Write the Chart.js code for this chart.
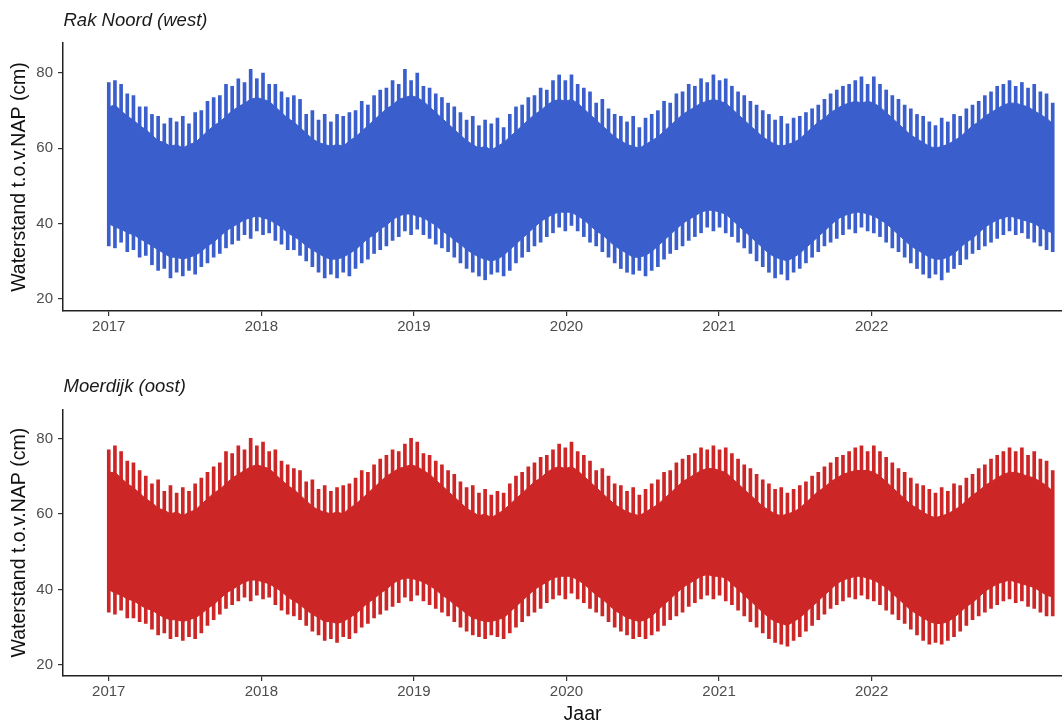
<!DOCTYPE html>
<html>
<head>
<meta charset="utf-8">
<title>Waterstand Rak Noord en Moerdijk</title>
<script src="https://cdn.jsdelivr.net/npm/chart.js@4.4.1/dist/chart.umd.min.js"></script>
<style>
  html, body { margin: 0; padding: 0; background: #fff; width: 1062px; height: 724px; overflow: hidden; }
  canvas { position: absolute; left: 0; }
  #rak { top: 0; }
  #moer { top: 362px; }
</style>
</head>
<body>
<canvas id="rak" width="1102" height="362"></canvas>
<canvas id="moer" width="1102" height="370"></canvas>
<script>
// Spring–neap cycles from 1 Jan 2017 onward; one value per cycle (cm t.o.v. NAP).
const seriesStart = 2017.0;
const springNeapDays = 14.77;

const yearTicks = [2017, 2018, 2019, 2020, 2021, 2022];
const levelTicks = [20, 40, 60, 80];

// Rak Noord (west)
const rakHighPeak = [
  77.5,78,77,74.5,74,71,71,69,68.5,66.5,68,67,68.5,66.5,69.5,70,72.5,73.5,74,77,76.5,78.5,77.5,81,78.5,
  80,77,77,75,73.5,74,73,69,70,67.5,69,67,69,68.5,69.5,70,72.5,71.5,74,75.5,76,78,77,81,78,
  80,76.5,76,74.5,73.5,72,71,69.5,67.5,68.5,66,67.5,66.5,68,65.5,69,71,71.5,73.5,74,76,75.5,78,79.5,78,
  79.5,77,76,75,72,73,70.5,69,68.5,67,68.5,65.5,68,69,70,72.5,72,74.5,75,77,76.5,78.5,77.5,79.5,
  78,78.5,76.5,75,74,72.5,71.5,70,69,67.5,68.5,66.5,68,68.5,69.5,70.5,71.5,73,74.5,75.5,76.5,77,78,79,77,
  79,77,75.5,74,73,71.5,70.5,69,68.5,67,66,68,67,69,68.5,70.5,71.5,72.5,74,75,76.5,77,78,76.5,77.5,
  76,77,75,74.5,72
];
const rakHighBase = [
  71,71.5,70,68.5,67.5,66,65,63.5,62,61.5,60.5,61,60,61,61.5,63,64.5,66,67,68.5,70,71,72,73,73.5,
  73,72.5,71,69.5,68,67,65.5,64,62.5,61.5,61,60.5,61,60.5,62,63,64.5,66,67.5,69,70.5,71.5,73,73.5,74,
  73.5,72.5,71,69.5,68,66.5,65,63.5,62,61,60,60.5,59.5,60.5,61.5,63,64.5,66,67.5,69,70,71.5,72.5,73,72.5,
  73,72,70.5,69,67.5,66,64.5,63,62,61,60.5,60,61,62,63,64.5,66,67.5,69,70,71,72,72.5,73,
  72.5,72,70.5,69,67.5,66,64.5,63,62,61,60.5,61,61.5,62.5,64,65.5,67,68,69.5,70.5,71.5,72,72.5,72,72.5,
  72,71,69.5,68,66.5,65,63.5,62.5,61.5,60.5,60,60.5,61,62,63,64.5,66,67,68.5,69.5,70.5,71.5,72,72,71.5,
  71,70,69,68,66.5
];
const rakLowBase = [
  40,39,38.5,37.5,37,36,35,34,33,32,31,31,30.5,31,31.5,32.5,34,35,36.5,38,39,40,41,41.5,42,
  41.5,41,40,39,37.5,36.5,35.5,34,33,32,31,30.5,30.5,31,32,33,34.5,36,37,38.5,39.5,41,42,42.5,42.5,
  42,41.5,40.5,39.5,38,37,35.5,34.5,33,32,31,30.5,30,30.5,31.5,33,34.5,36,37.5,39,40.5,41.5,42.5,43,43,
  43,42,41,39.5,38,37,35.5,34,33,32,31,31,31.5,32.5,34,35.5,37,38.5,40,41,42,43,43.5,43.5,
  43,42.5,41,39.5,38,36.5,35,33.5,32,31,30.5,30,31,32,33.5,35,36.5,38,39.5,41,42,42.5,43,43,42.5,
  42,41,40,38.5,37,35.5,34,33,32,31,30.5,30.5,31,32,33.5,35,36,37.5,39,40,41,41.5,42,41.5,41,
  40.5,40,39,38,37.5
];
const rakLowPeak = [
  34,33.5,35,32.5,33,31,31.5,29,27.5,28,25.5,27,26,27.5,26.5,28.5,29.5,31,32,33.5,34.5,35.5,37,36,38,
  37,37.5,35.5,34.5,33,33,31.5,30,28.5,27,25.5,26.5,25.5,27,26,28,29.5,30.5,32,33,34,35.5,36.5,38,37,
  38.5,37,36,34.5,33.5,32.5,31,29.5,28,27,26,25,26.5,27,26,27.5,29.5,31,32.5,34,35,36.5,37.5,39,38,
  39.5,38,36.5,35,34,32.5,31,29.5,28,27,26.5,27.5,26,27.5,28.5,30.5,32,33,34,35.5,36.5,37.5,39,38,
  39,37.5,36.5,35,33.5,32,30,28.5,27,25.5,26.5,25,27,28,29.5,31,32.5,34,35,36,37,38.5,37.5,39,38,
  37.5,36.5,35,33.5,32.5,31,29.5,28,26.5,25.5,26.5,25,27,28,29,30.5,32,33,34,35,36,37,38,37,37.5,
  36,35,34,33,32.5
];

// Moerdijk (oost)
const moerHighPeak = [
  77,78,76.5,74,73.5,71.5,70,68,69,66,67.5,65.5,67,66,68,69.5,71,72.5,73.5,76.5,76,78,77,80,78,
  79,76.5,77,74,73,72,71.5,68.5,69,66.5,67.5,66,67,67.5,68,69.5,71.5,71,73,74.5,75.5,77,76.5,78.5,80,
  79,76,75.5,74,73,71.5,70.5,68.5,67,67.5,65.5,66.5,65,66,65.5,68,70,71,72.5,73.5,75,75.5,77,78.5,77.5,
  79,76.5,75.5,74,71.5,72,70,68,67.5,66,67,65,66.5,68,69,71,71.5,73.5,74.5,75.5,76,77.5,77,78,
  77,77.5,76,74.5,73,72,70.5,69,68,66.5,67,65.5,66.5,67.5,68.5,70,71,72.5,73.5,75,75.5,76.5,77.5,78,76.5,
  78,76.5,75,73.5,72,71,69.5,68,67.5,66.5,65.5,67,66,68,67.5,69.5,70.5,72,73,74.5,75.5,76.5,77.5,76.5,77.5,
  75.5,76.5,74.5,74,71.5
];
const moerHighBase = [
  71,71,69.5,68,67,65.5,64,63,61.5,61,60,60.5,59.5,60.5,61,62.5,64,65.5,66.5,68,69.5,70.5,71.5,72.5,73,
  72.5,72,70.5,69,67.5,66.5,65,63.5,62,61,60.5,60,60.5,60,61.5,62.5,64,65.5,67,68.5,70,71,72,72.5,73,
  72.5,71.5,70.5,69,67.5,66,64.5,63,61.5,60.5,59.5,60,59,60,61,62.5,64,65.5,67,68.5,69.5,71,72,72.5,72,
  72.5,71.5,70,68.5,67,65.5,64,62.5,61.5,60.5,60,59.5,60.5,61.5,62.5,64,65.5,67,68.5,69.5,70.5,71.5,72,72,
  71.5,71,69.5,68,66.5,65,63.5,62,61,60,59.5,60,60.5,61.5,63,64.5,66,67,68.5,69.5,70.5,71,71.5,71.5,71.5,
  71,70,68.5,67,65.5,64,62.5,61.5,60.5,59.5,59,59.5,60,61,62,63.5,65,66,67.5,68.5,69.5,70.5,71,71,70.5,
  70,69.5,68.5,67.5,66
];
const moerLowBase = [
  40,39,38.5,37.5,37,36,35,34.5,33.5,32.5,32,32,31.5,32,32.5,33.5,35,36,37.5,39,40,41,42,42.5,42.5,
  42,41.5,40.5,39.5,38,37,36,34.5,33.5,32.5,31.5,31.5,31,31.5,32.5,33.5,35,36.5,37.5,39,40,41.5,42.5,43,43,
  42.5,42,41,40,38.5,37.5,36,35,33.5,32.5,32,31.5,31.5,32,32.5,34,35.5,37,38.5,40,41,42,43,43.5,43.5,
  43.5,42.5,41.5,40,38.5,37.5,36,34.5,33.5,32.5,32,31.5,32,33,34.5,36,37.5,39,40.5,41.5,42.5,43.5,44,43.5,
  43.5,43,41.5,40,38.5,37,35.5,34,32.5,31.5,31,30.5,31.5,32.5,34,35.5,37,38.5,40,41.5,42.5,43,43.5,43.5,43,
  42.5,41.5,40.5,39,37.5,36,34.5,33.5,32.5,31.5,31,31,31.5,32.5,34,35.5,36.5,38,39.5,40.5,41.5,42,42.5,42,41.5,
  41,40.5,39.5,38.5,38
];
const moerLowPeak = [
  34,33.5,34.5,32.5,32.5,31.5,31,29.5,28,28.5,27,27.5,26.5,27.5,27,28.5,30.5,32,33.5,35,36,37,38,37,38.5,
  37.5,38,36,34.5,33.5,33,32,30.5,29,28,26.5,27,26,27.5,27,28.5,30,31,32.5,33.5,34.5,35.5,36.5,38,37,
  38.5,37,36,35,34,33,31.5,30,29,28,27.5,27,28,27.5,27,28.5,30,31.5,33,34,35,36.5,37.5,38.5,37.5,
  39,37.5,36.5,35,34,33,31.5,30,29,28,27,27.5,27,28,29,30.5,32,33,34,35.5,36.5,37.5,38.5,37.5,
  38.5,37,36,34.5,33,31.5,30,28.5,27,26,25.5,25,26.5,27.5,29,30.5,32,33.5,35,36,37,38,37.5,38.5,37.5,
  37,36,34.5,33.5,32,31,29.5,28,26.5,25.5,26,25.5,26.5,27.5,29,30.5,32,33,34,35,36,37,37.5,36.5,37,
  35.5,35,34,33,33
];

const cycleYears = rakHighPeak.map((_, i) => seriesStart + i * springNeapDays / 365.25);

const FONT = '"Liberation Sans", Arial, Helvetica, sans-serif';
Chart.defaults.font.family = FONT;

// Italic panel heading above the plot area
const panelTitle = {
  id: 'panelTitle',
  afterDraw(chart, args, opts) {
    const { ctx, chartArea } = chart;
    ctx.save();
    ctx.font = 'italic 18.5px ' + FONT;
    ctx.fillStyle = '#1a1a1a';
    ctx.textAlign = 'left';
    ctx.textBaseline = 'middle';
    ctx.fillText(opts.text, chartArea.left + 0.5, chartArea.top - 22);
    ctx.restore();
  }
};

function drawPanel(id, heading, color, highPeak, highBase, lowBase, lowPeak, cfg) {
  const canvas = document.getElementById(id);
  const H = canvas.height;
  const axisGrid = { display: true, drawOnChartArea: false, drawTicks: true, tickLength: 5, color: '#333', lineWidth: 1.2, offset: false };
  const axisBorder = { display: true, color: '#222', width: 1.5 };
  const tickFont = { size: 15 };

  return new Chart(canvas, {
    type: 'line',
    data: {
      datasets: [
        {
          data: cycleYears.map((t, i) => ({ x: t, y: highBase[i] })),
          borderColor: color, borderWidth: 1, pointRadius: 0, fill: false, tension: 0
        },
        {
          data: cycleYears.map((t, i) => ({ x: t, y: lowBase[i] })),
          borderColor: color, borderWidth: 1, pointRadius: 0, backgroundColor: color, fill: '-1', tension: 0
        },
        {
          type: 'bar',
          data: cycleYears.map((t, i) => ({ x: t, y: [lowPeak[i], highPeak[i]] })),
          backgroundColor: color, borderWidth: 0, barThickness: 3, grouped: false
        }
      ]
    },
    options: {
      responsive: false,
      animation: false,
      devicePixelRatio: 1,
      events: [],
      layout: { padding: { top: cfg.areaTop, left: 0, right: 0, bottom: 0 } },
      plugins: {
        legend: { display: false },
        tooltip: { enabled: false },
        panelTitle: { text: heading }
      },
      scales: {
        x: {
          type: 'linear',
          min: 2016.70,
          max: 2023.51,
          offset: false,
          afterBuildTicks: s => { s.ticks = yearTicks.map(v => ({ value: v })); },
          afterFit: s => { s.height = H - cfg.areaBottom; },
          ticks: { callback: v => String(v), color: '#4d4d4d', font: tickFont, padding: 2, maxRotation: 0, autoSkip: false },
          grid: axisGrid,
          border: axisBorder,
          title: { display: cfg.xTitle, text: 'Jaar', color: '#111', font: { size: 19.5 }, padding: { top: 0, bottom: 6 } }
        },
        y: {
          type: 'linear',
          min: cfg.yMin,
          max: cfg.yMax,
          afterBuildTicks: s => { s.ticks = levelTicks.map(v => ({ value: v })); },
          afterFit: s => { s.width = 63; },
          ticks: { callback: v => String(v), color: '#4d4d4d', font: tickFont, padding: 5 },
          grid: axisGrid,
          border: axisBorder,
          title: { display: true, text: 'Waterstand t.o.v.NAP (cm)', color: '#111', font: { size: 19.5 }, padding: { top: 8, bottom: 0 } }
        }
      }
    },
    plugins: [panelTitle]
  });
}

drawPanel('rak', 'Rak Noord (west)', '#3A5FCD',
  rakHighPeak, rakHighBase, rakLowBase, rakLowPeak,
  { areaTop: 43, areaBottom: 311, yMin: 16.7, yMax: 88.0, xTitle: false });

drawPanel('moer', 'Moerdijk (oost)', '#CD2626',
  moerHighPeak, moerHighBase, moerLowBase, moerLowPeak,
  { areaTop: 47.3, areaBottom: 314, yMin: 17.1, yMax: 87.7, xTitle: true });
</script>
</body>
</html>
